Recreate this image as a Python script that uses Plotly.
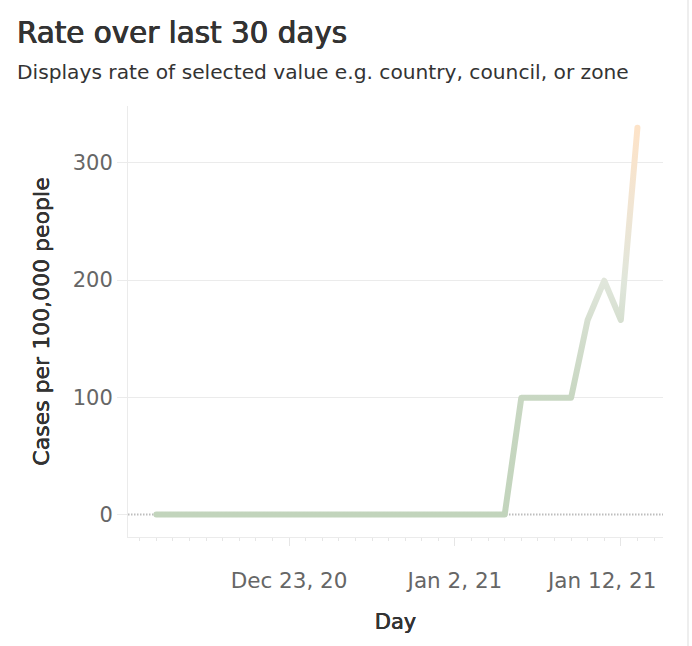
import pandas as pd
import plotly.graph_objects as go

# ---- data ----
start_date = "2020-12-15"
n_days = 30
rate_values = [0] * 22 + [99.6, 99.6, 99.6, 99.6, 166, 199.5, 166, 330]
x_tick_dates = ["2020-12-23", "2021-01-02", "2021-01-12"]
x_tick_labels = ["Dec 23, 20", "Jan 2, 21", "Jan 12, 21"]
y_tick_values = [0, 100, 200, 300]
y_tick_labels = ["0", "100", "200", "300"]

title_text = "Rate over last 30 days"
subtitle_text = "Displays rate of selected value e.g. country, council, or zone"
y_title = "Cases per 100,000 people"
x_title = "Day"

days = pd.date_range(start_date, periods=n_days, freq="D")

FONT = "DejaVu Sans"
W, H = 692, 646
L, R, T, B = 128, 29, 106, 109
PW, PH = W - L - R, H - T - B
BOLDISH = "0.22px 0 0 #333333, -0.22px 0 0 #333333"
X_RANGE = ["2020-12-13 07:00", "2021-01-14 13:00"]
TICKFONT = dict(family=FONT, size=21.5, color="#666666")

fig = go.Figure()
fig.add_trace(go.Scatter(
    x=days, y=rate_values, mode="lines",
    line=dict(color="#c4d5be", width=6),
    hoverinfo="skip", showlegend=False,
))

# main axis shows all tick marks, labels for all but the last one
main_ticktext = x_tick_labels[:-1] + [""]

fig.update_layout(
    width=W, height=H,
    margin=dict(l=L, r=R, t=T, b=B),
    paper_bgcolor="white", plot_bgcolor="white",
    font=dict(family=FONT, color="#333333"),
    showlegend=False,
    xaxis=dict(
        type="date", range=X_RANGE,
        tickmode="array", tickvals=x_tick_dates, ticktext=main_ticktext,
        ticks="outside", ticklen=8, tickwidth=1, tickcolor="#e6e6e6",
        ticklabelstandoff=16,
        tickfont=TICKFONT,
        showgrid=False, zeroline=False,
        showline=True, linecolor="#ebebeb", linewidth=1,
        minor=dict(dtick=86400000, tick0="2020-12-14", ticks="outside",
                   ticklen=3, tickcolor="#e6e6e6", showgrid=False),
        title=dict(text=x_title,
                   font=dict(family=FONT, size=21, color="#333333", shadow=BOLDISH),
                   standoff=22),
        fixedrange=True,
    ),
    yaxis=dict(
        range=[-19.2, 348.6],
        tickmode="array", tickvals=y_tick_values, ticktext=y_tick_labels,
        ticks="outside", ticklen=10, tickwidth=1, tickcolor="#ebebeb",
        tickfont=dict(family=FONT, size=21, color="#666666"),
        showgrid=False, zeroline=False,
        showline=True, linecolor="#ebebeb", linewidth=1,
        minor=dict(tickmode="array", tickvals=y_tick_values[1:], ticks="",
                   showgrid=True, gridcolor="#ebebeb", gridwidth=1),
        title=dict(text=y_title,
                   font=dict(family=FONT, size=22, color="#333333", shadow=BOLDISH),
                   standoff=17),
        fixedrange=True,
    ),
)

# last tick label, kept inside the view like the reference does
fig.add_annotation(text=x_tick_labels[-1], x=x_tick_dates[-1], xref="x",
                   yref="paper", y=(537 - 580) / PH, yanchor="middle", xanchor="center",
                   xshift=-20, showarrow=False, font=TICKFONT)

# dotted zero reference line
fig.add_shape(type="line", xref="paper", x0=0, x1=1, yref="y", y0=0, y1=0,
              line=dict(color="#bdbdbd", width=2, dash="1.5px,1.5px"), layer="below")

# dashboard border on the right
fig.add_shape(type="line", xref="paper", x0=(688 - L) / PW, x1=(688 - L) / PW,
              yref="paper", y0=-B / PH, y1=(H - B) / PH,
              line=dict(color="#eeeeee", width=2))

# title and subtitle
fig.add_annotation(text=title_text, xref="paper", yref="paper",
                   x=(15 - L) / PW, y=(H - B - 52) / PH, xanchor="left", yanchor="bottom",
                   showarrow=False,
                   font=dict(family=FONT, size=29.4, color="#333333",
                             shadow="0.45px 0 0 #333333, -0.45px 0 0 #333333"))
fig.add_annotation(text=subtitle_text, xref="paper", yref="paper",
                   x=(15 - L) / PW, y=(H - B - 86) / PH, xanchor="left", yanchor="bottom",
                   showarrow=False, font=dict(family=FONT, size=20.2, color="#333333"))

post = """
var gd = document.getElementById('{plot_id}');
function applyGrad(){
  var svg = gd.querySelector('svg.main-svg');
  if(!svg) return;
  var ns = 'http://www.w3.org/2000/svg';
  if(!document.getElementById('rateGrad')){
    var defs = document.createElementNS(ns, 'defs');
    var lg = document.createElementNS(ns, 'linearGradient');
    lg.setAttribute('id', 'rateGrad');
    lg.setAttribute('x1', '0'); lg.setAttribute('y1', '1');
    lg.setAttribute('x2', '0'); lg.setAttribute('y2', '0');
    var stops = [[0, '#c2d4bc'], [0.3, '#c8d7c2'], [0.5, '#d6dfd0'], [0.6, '#e0e6db'],
                 [0.8, '#f1e5d3'], [1, '#fde3c8']];
    stops.forEach(function(s){
      var st = document.createElementNS(ns, 'stop');
      st.setAttribute('offset', s[0]); st.setAttribute('stop-color', s[1]);
      lg.appendChild(st);
    });
    defs.appendChild(lg); svg.insertBefore(defs, svg.firstChild);
  }
  gd.querySelectorAll('.scatterlayer .trace path.js-line').forEach(function(p){
    p.style.stroke = 'url(#rateGrad)';
    p.style.strokeLinecap = 'round';
    p.style.strokeLinejoin = 'round';
  });
}
applyGrad();
gd.on('plotly_afterplot', applyGrad);
"""

fig.write_html("out.html", post_script=post)
